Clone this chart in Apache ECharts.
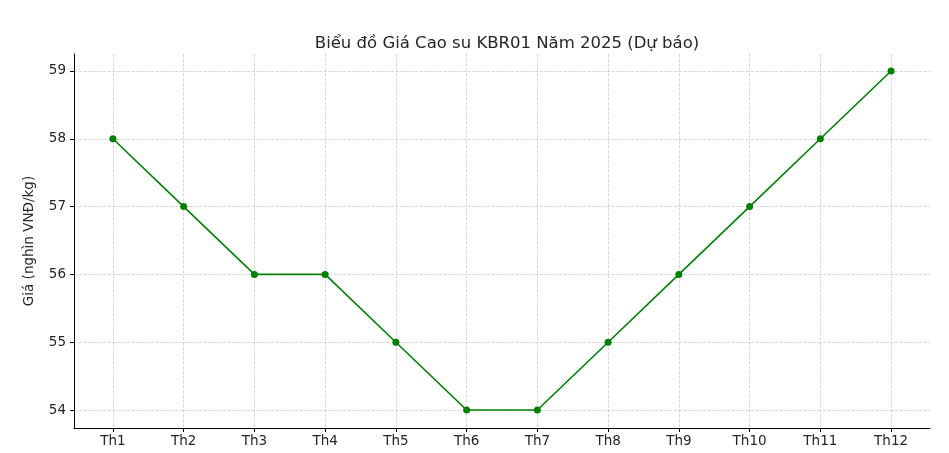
<!DOCTYPE html>
<html><head><meta charset="utf-8">
<script src="https://cdn.jsdelivr.net/npm/echarts@6/dist/echarts.min.js"></script>
<style>html,body{margin:0;padding:0;background:#fff}#c{width:949px;height:453px}</style>
</head><body><div id="c"></div>
<script>
const categories = ["Th1","Th2","Th3","Th4","Th5","Th6","Th7","Th8","Th9","Th10","Th11","Th12"];
const prices = [58,57,56,56,55,54,54,55,56,57,58,59];
const yTicks = [54,55,56,57,58,59];
const xTicks = categories.map((c,i)=>i);
const chart = echarts.init(document.getElementById('c'));
const font = 'DejaVu Sans';
chart.setOption({
  animation:false,
  title:{text:'Biểu đồ Giá Cao su KBR01 Năm 2025 (Dự báo)',left:502,top:30,textAlign:'center',
    textStyle:{fontFamily:font,fontSize:16.5,fontWeight:'normal',color:'#262626'}},
  grid:{left:74,right:19,top:54,bottom:25},
  xAxis:{type:'value',min:-0.55,max:11.55,
    axisLine:{show:true,onZero:false,lineStyle:{color:'#000',width:1}},
    axisTick:{show:true,length:4,lineStyle:{color:'#000'},customValues:xTicks},
    axisLabel:{fontFamily:font,fontSize:13.5,color:'#262626',margin:6,customValues:xTicks,
      formatter:v=>categories[Math.round(v)]||''},
    splitLine:{show:true,lineStyle:{color:'#ccc',type:'dashed',width:0.8}}},
  yAxis:{type:'value',min:53.735,max:59.25,
    name:'Giá (nghìn VNĐ/kg)',nameLocation:'middle',nameGap:38,
    nameTextStyle:{fontFamily:font,fontSize:13.5,color:'#262626'},
    axisLine:{show:true,onZero:false,lineStyle:{color:'#000',width:1}},
    axisTick:{show:true,length:4,lineStyle:{color:'#000'},customValues:yTicks},
    axisLabel:{fontFamily:font,fontSize:13.5,color:'#262626',margin:8,customValues:yTicks},
    splitLine:{show:true,lineStyle:{color:'#ccc',type:'dashed',width:0.8}}},
  series:[{type:'line',data:prices.map((v,i)=>[i,v]),
    lineStyle:{color:'#008000',width:1.6},
    itemStyle:{color:'#008000'},symbol:'circle',symbolSize:7}]
});
</script></body></html>
